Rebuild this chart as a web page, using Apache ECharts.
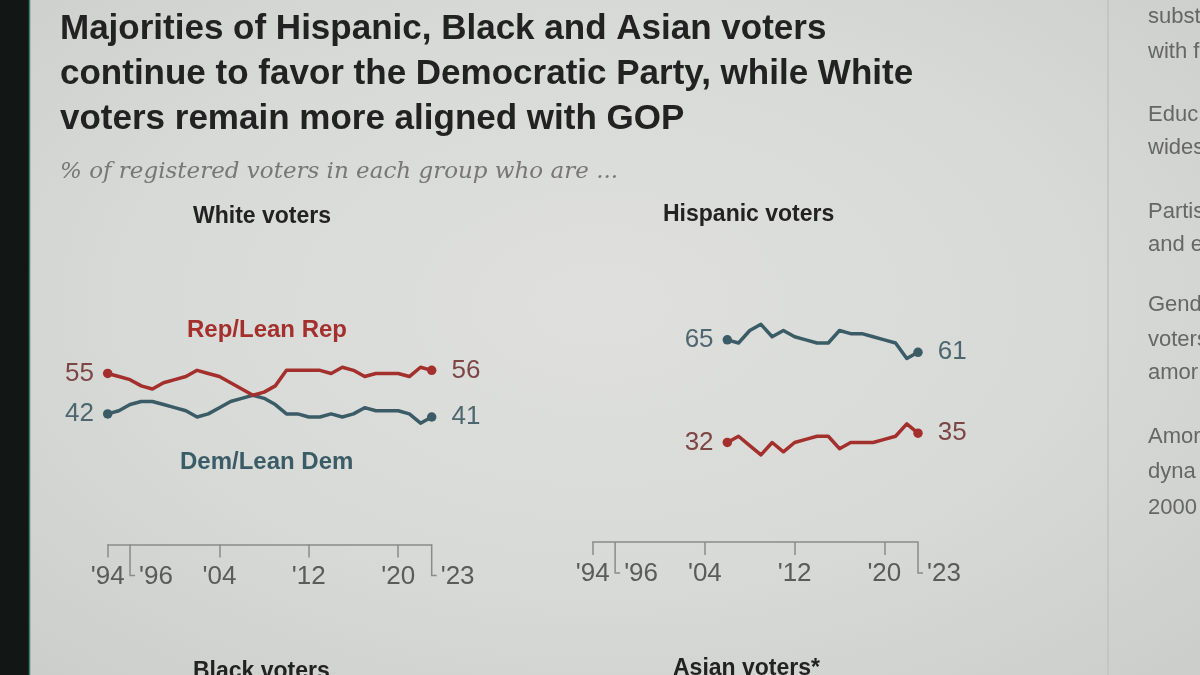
<!DOCTYPE html>
<html><head><meta charset="utf-8">
<script src="https://cdn.jsdelivr.net/npm/echarts@6/dist/echarts.min.js"></script>
<style>
html,body{margin:0;padding:0;}
#c{width:1200px;height:675px;background:radial-gradient(ellipse 70% 75% at 50% 45%, #dfe0dd 0%, #d8dad7 55%, #cccecb 100%);}
</style>
</head><body><div id="c"></div>
<script>
// ---- data ----
const whiteYears = [1994,1995,1996,1997,1998,1999,2000,2001,2002,2003,2004,2005,2006,2007,2008,2009,2010,2011,2012,2013,2014,2015,2016,2017,2018,2019,2020,2021,2022,2023];
const whiteRep = [55,54,53,51,50,52,53,54,56,55,54,52,50,48,49,51,56,56,56,56,55,57,56,54,55,55,55,54,57,56];
const whiteDem = [42,43,45,46,46,45,44,43,41,42,44,46,47,48,47,45,42,42,41,41,42,41,42,44,43,43,43,42,39,41];
const hispYears = [2006,2007,2008,2009,2010,2011,2012,2013,2014,2015,2016,2017,2018,2019,2020,2021,2022,2023];
const hispDem = [65,64,68,70,66,68,66,65,64,64,68,67,67,66,65,64,59,61];
const hispRep = [32,34,31,28,32,29,32,33,34,34,30,32,32,32,33,34,38,35];
const tickYears = [1994,2004,2012,2020];
const bracketYears = [1996,2023];
const titleLines = ["Majorities of Hispanic, Black and Asian voters","continue to favor the Democratic Party, while White","voters remain more aligned with GOP"];
const subtitle = "% of registered voters in each group who are ...";
const panelTitles = ["White voters","Hispanic voters","Black voters","Asian voters*"];
const repName = "Rep/Lean Rep", demName = "Dem/Lean Dem";
const sideText = ["subst","with f","Educ","wides","Partis","and e","Gend","voters","amor","Amor","dyna","2000"];

// ---- style ----
const REP = '#a3302d', DEM = '#3b5c67';
const REPL = '#7c4644', DEML = '#4d6670';
const SANS = '"Liberation Sans", Arial, sans-serif';
const AX = '#8a8c89';
const yr = y => "'" + String(y).slice(2);

const chart = echarts.init(document.getElementById('c'), null, {renderer:'canvas'});

function lineSeries(years, vals, color, lcolor, g, z) {
  const n = vals.length;
  return {
    type:'line', xAxisIndex:g, yAxisIndex:g, z:z, silent:true, animation:false,
    data: years.map((y,i)=>{
      const d = {value:[y, vals[i]]};
      if (i===0) d.label = {show:true, position:'left', distance:9};
      if (i===n-1) d.label = {show:true, position:'right', distance:15};
      return d;
    }),
    label:{show:false, formatter:p=>p.value[1], color:lcolor, fontSize:26, fontFamily:SANS},
    symbol:'circle',
    symbolSize:(v,p)=> (p.dataIndex===0||p.dataIndex===n-1) ? 9.5 : 0,
    showSymbol:true,
    lineStyle:{width:3.5, color:color, join:'round'},
    itemStyle:{color:color}
  };
}
function bracketSeries(g) {
  return {
    type:'custom', xAxisIndex:g, yAxisIndex:g, silent:true, animation:false,
    data: bracketYears.map(y=>[y,0]),
    renderItem:(params, api)=>{
      const p = api.coord([api.value(0), 0]);
      return {type:'group', children:[
        {type:'polyline', shape:{points:[[p[0],p[1]],[p[0],p[1]+31],[p[0]+5,p[1]+31]]},
         style:{stroke:AX, lineWidth:1.5, fill:null}},
        {type:'text', x:p[0]+9, y:p[1]+32,
         style:{text:yr(api.value(0)), fill:'#5a5b5a', font:'26px '+SANS, textAlign:'left', textVerticalAlign:'middle'}}
      ]};
    }
  };
}

const grids = [
  {left:107.7, width:324, top:233.5, height:311},
  {left:592.7, width:325.3, top:231, height:311}
];
const xAxes = grids.map((g,i)=>({
  type:'value', gridIndex:i, min:1994, max:2023,
  axisLine:{show:true, lineStyle:{color:AX, width:1.5}},
  axisTick:{show:true, customValues:tickYears, length:13, lineStyle:{color:AX, width:1.5}},
  axisLabel:{show:true, customValues:tickYears, formatter:v=>yr(v), margin:19, fontSize:26, color:'#5a5b5a', fontFamily:SANS},
  splitLine:{show:false}
}));
const yAxes = grids.map((g,i)=>({type:'value', gridIndex:i, min:0, max:100, show:false}));

const texts = [];
titleLines.forEach((t,i)=>texts.push({type:'text', left:60, top:12+i*45, style:{text:t, fill:'#222', font:'bold 35px '+SANS}}));
texts.push({type:'text', left:60, top:161, style:{text:subtitle, fill:'#777', font:'italic 23px "DejaVu Serif", Georgia, serif'}});
texts.push({type:'text', left:193, top:205, style:{text:panelTitles[0], fill:'#222', font:'bold 23px '+SANS}});
texts.push({type:'text', left:663, top:203, style:{text:panelTitles[1], fill:'#222', font:'bold 23px '+SANS}});
texts.push({type:'text', left:193, top:660, style:{text:panelTitles[2], fill:'#222', font:'bold 23px '+SANS}});
texts.push({type:'text', left:673, top:657, style:{text:panelTitles[3], fill:'#222', font:'bold 23px '+SANS}});
texts.push({type:'text', left:187, top:318, style:{text:repName, fill:REP, font:'bold 24px '+SANS}});
texts.push({type:'text', left:180, top:450, style:{text:demName, fill:DEM, font:'bold 24px '+SANS}});
const sideY = [17,52,115,148,212,245,305,340,373,437,472,508];
sideText.forEach((t,i)=>texts.push({type:'text', x:1148, y:sideY[i], style:{text:t, fill:'#666', font:'22px '+SANS, textVerticalAlign:'middle'}}));
texts.push({type:'rect', shape:{x:0,y:0,width:29,height:675}, style:{fill:'#121614'}, z:10});
texts.push({type:'line', shape:{x1:29.5,y1:0,x2:29.5,y2:675}, style:{stroke:'#3f7f6c', lineWidth:1.5}, z:10});
texts.push({type:'line', shape:{x1:1108,y1:0,x2:1108,y2:675}, style:{stroke:'#c4c6c3', lineWidth:2}});

chart.setOption({
  backgroundColor:'transparent',
  animation:false,
  grid:grids,
  xAxis:xAxes,
  yAxis:yAxes,
  graphic:texts,
  series:[
    lineSeries(whiteYears, whiteDem, DEM, DEML, 0, 2),
    lineSeries(whiteYears, whiteRep, REP, REPL, 0, 3),
    lineSeries(hispYears, hispDem, DEM, DEML, 1, 2),
    lineSeries(hispYears, hispRep, REP, REPL, 1, 3),
    bracketSeries(0),
    bracketSeries(1)
  ]
});
</script>
</body></html>
